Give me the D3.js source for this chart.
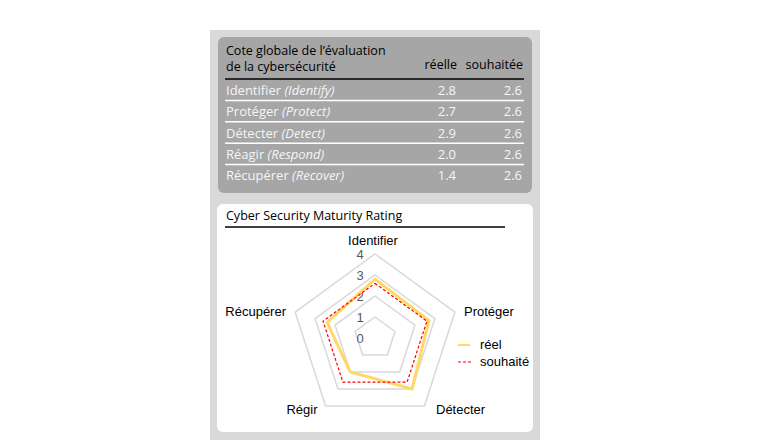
<!DOCTYPE html>
<html><head><meta charset="utf-8">
<script src="https://cdn.jsdelivr.net/npm/d3@7"></script>
<style>body{margin:0;background:#fff}</style>
</head><body>
<svg id="c" width="760" height="440"></svg>
<script>
var rowNames = ["Identifier", "Protéger", "Détecter", "Réagir", "Récupérer"];
var rowNamesEn = ["(Identify)", "(Protect)", "(Detect)", "(Respond)", "(Recover)"];
var tableReel = ["2.8", "2.7", "2.9", "2.0", "1.4"];
var tableSouhaite = ["2.6", "2.6", "2.6", "2.6", "2.6"];
var axes = ["Identifier", "Protéger", "Détecter", "Régir", "Récupérer"];
var reel = [2.8, 2.7, 3.0, 2.0, 2.4];
var souhaite = [2.6, 2.6, 2.6, 2.6, 2.6];
var levels = [0, 1, 2, 3, 4];

var svg = d3.select("#c");
var tf = "'Open Sans', sans-serif";
var af = "'Liberation Sans', Arial, sans-serif";

svg.append("rect").attr("x", 210).attr("y", 30).attr("width", 330).attr("height", 420).attr("fill", "#d9d9d9");
svg.append("rect").attr("x", 218).attr("y", 37).attr("width", 314).attr("height", 156).attr("rx", 6).attr("fill", "#a6a6a6");
svg.append("rect").attr("x", 217).attr("y", 204).attr("width", 316).attr("height", 228).attr("rx", 6).attr("fill", "#fff");

// table
var tb = svg.append("g").attr("font-family", tf).attr("font-size", 12.5);
tb.append("text").attr("x", 226).attr("y", 55).text("Cote globale de l’évaluation");
tb.append("text").attr("x", 226).attr("y", 71).text("de la cybersécurité");
tb.append("text").attr("x", 457).attr("y", 69).attr("text-anchor", "end").text("réelle");
tb.append("text").attr("x", 523).attr("y", 69).attr("text-anchor", "end").text("souhaitée");
tb.append("line").attr("x1", 225).attr("x2", 524).attr("y1", 79).attr("y2", 79).attr("stroke", "#000").attr("stroke-width", 1.5);

var ry = d3.scaleBand().domain(d3.range(rowNames.length)).range([79, 186]);
rowNames.forEach(function(n, i) {
  var y = ry(i) + ry.bandwidth() / 2 + 5;
  var t = tb.append("text").attr("x", 226).attr("y", y).attr("fill", "#f5f5f5").attr("font-size", 13);
  t.append("tspan").text(n + " ");
  t.append("tspan").attr("font-style", "italic").text(rowNamesEn[i]);
  tb.append("text").attr("x", 456).attr("y", y).attr("text-anchor", "end").attr("fill", "#f5f5f5").attr("font-size", 13).text(tableReel[i]);
  tb.append("text").attr("x", 522).attr("y", y).attr("text-anchor", "end").attr("fill", "#f5f5f5").attr("font-size", 13).text(tableSouhaite[i]);
  if (i > 0) tb.append("line").attr("x1", 225).attr("x2", 524).attr("y1", ry(i)).attr("y2", ry(i)).attr("stroke", "#fff").attr("stroke-width", 1.5);
});

// radar
svg.append("text").attr("x", 226).attr("y", 220).attr("font-family", tf).attr("font-size", 12.5).text("Cyber Security Maturity Rating");
svg.append("line").attr("x1", 225).attr("x2", 505).attr("y1", 227).attr("y2", 227).attr("stroke", "#000").attr("stroke-width", 1.5);

var cx = 375, cy = 338;
var r = d3.scaleLinear().domain([0, 4]).range([0, 84]);
var ang = function(i) { return i * 2 * Math.PI / axes.length; };
var pt = function(v, i) { return [cx + r(v) * Math.sin(ang(i)), cy - r(v) * Math.cos(ang(i))]; };
var line = d3.line();

var g = svg.append("g");
levels.slice(1).forEach(function(l) {
  g.append("path").attr("d", line(axes.map(function(a, i) { return pt(l, i); })) + "Z")
    .attr("fill", "none").attr("stroke", "#d9d9d9").attr("stroke-width", 1.5);
});
g.selectAll(".tick").data(levels).enter().append("text")
  .attr("x", cx - 15).attr("y", function(d) { return cy - r(d) + 5; })
  .attr("text-anchor", "middle").attr("font-family", af).attr("font-size", 13).attr("fill", "#595959")
  .text(function(d) { return d; });

// label anchors around the pentagon
var labPos = [[373, 245, "middle"], [464, 316, "start"], [436, 414, "start"], [302, 414, "middle"], [286, 316, "end"]];
axes.forEach(function(a, i) {
  g.append("text").attr("x", labPos[i][0]).attr("y", labPos[i][1]).attr("text-anchor", labPos[i][2])
    .attr("font-family", af).attr("font-size", 13).text(a);
});

g.append("path").attr("d", line(reel.map(pt)) + "Z").attr("fill", "none").attr("stroke", "#ffd966").attr("stroke-width", 3);
g.append("path").attr("d", line(souhaite.map(pt)) + "Z").attr("fill", "none").attr("stroke", "#ff0000").attr("stroke-width", 1.2).attr("stroke-dasharray", "3,2");

var lg = svg.append("g").attr("font-family", af).attr("font-size", 13);
lg.append("line").attr("x1", 458).attr("x2", 470).attr("y1", 345).attr("y2", 345).attr("stroke", "#ffd966").attr("stroke-width", 2);
lg.append("text").attr("x", 480).attr("y", 349).text("réel");
lg.append("line").attr("x1", 458).attr("x2", 472).attr("y1", 362).attr("y2", 362).attr("stroke", "#ff0000").attr("stroke-width", 1.2).attr("stroke-dasharray", "3,2");
lg.append("text").attr("x", 480).attr("y", 366).text("souhaité");
</script>
</body></html>
